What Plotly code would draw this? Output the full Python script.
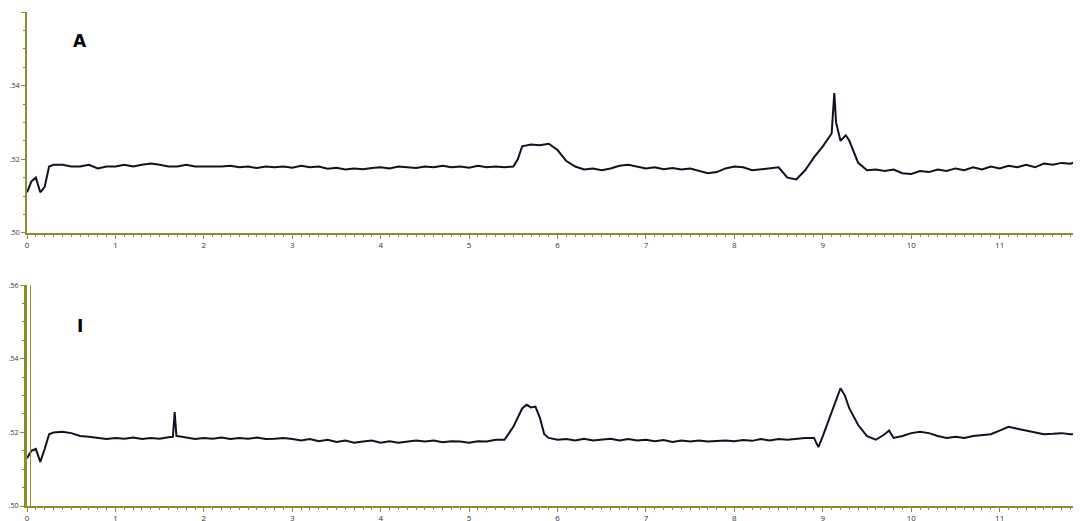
import plotly.graph_objects as go

x_top = [0.0,0.05,0.1,0.15,0.2,0.25,0.3,0.4,0.5,0.6,0.7,0.8,0.9,1.0,1.1,1.2,1.3,1.4,1.5,1.6,1.7,1.8,1.9,2.0,2.1,2.2,2.3,2.4,2.5,2.6,2.7,2.8,2.9,3.0,3.1,3.2,3.3,3.4,3.5,3.6,3.7,3.8,3.9,4.0,4.1,4.2,4.3,4.4,4.5,4.6,4.7,4.8,4.9,5.0,5.1,5.2,5.3,5.4,5.5,5.55,5.6,5.7,5.8,5.9,6.0,6.1,6.2,6.3,6.4,6.5,6.6,6.7,6.8,6.9,7.0,7.1,7.2,7.3,7.4,7.5,7.6,7.7,7.8,7.9,8.0,8.1,8.2,8.3,8.4,8.5,8.6,8.7,8.8,8.9,9.0,9.1,9.13,9.15,9.2,9.26,9.3,9.4,9.5,9.6,9.7,9.8,9.9,10.0,10.1,10.2,10.3,10.4,10.5,10.6,10.7,10.8,10.9,11.0,11.1,11.2,11.3,11.4,11.5,11.6,11.7,11.8,11.9]
y_top = [.511,.514,.515,.511,.5125,.518,.5185,.5185,.518,.518,.5185,.5175,.518,.518,.5185,.518,.5185,.5188,.5185,.518,.518,.5185,.518,.518,.5178,.518,.5182,.5178,.518,.5176,.518,.5178,.518,.5177,.5182,.5178,.518,.5174,.5177,.5172,.5175,.5173,.5176,.5178,.5175,.518,.5178,.5176,.518,.5178,.5182,.5178,.518,.5177,.5182,.5178,.518,.5178,.518,.520,.5235,.524,.5238,.5242,.5225,.5195,.518,.5172,.5175,.517,.5175,.5182,.5185,.518,.5175,.5178,.5173,.5176,.5172,.5175,.5168,.5162,.5165,.5175,.518,.5178,.517,.5172,.5175,.5178,.515,.5145,.517,.5205,.5235,.527,.538,.530,.525,.5265,.525,.519,.517,.5172,.5168,.5172,.5162,.516,.5168,.5165,.5172,.5168,.5175,.517,.5178,.5172,.518,.5175,.5182,.5178,.5185,.5178,.5188,.5185,.519,.5188,.5195]

x_bot = [0.0,0.05,0.1,0.15,0.2,0.25,0.3,0.4,0.5,0.6,0.7,0.8,0.9,1.0,1.1,1.2,1.3,1.4,1.5,1.6,1.65,1.67,1.69,1.7,1.8,1.9,2.0,2.1,2.2,2.3,2.4,2.5,2.6,2.7,2.8,2.9,3.0,3.1,3.2,3.3,3.4,3.5,3.6,3.7,3.8,3.9,4.0,4.1,4.2,4.3,4.4,4.5,4.6,4.7,4.8,4.9,5.0,5.1,5.2,5.3,5.4,5.5,5.6,5.65,5.7,5.75,5.8,5.85,5.9,6.0,6.1,6.2,6.3,6.4,6.5,6.6,6.7,6.8,6.9,7.0,7.1,7.2,7.3,7.4,7.5,7.6,7.7,7.8,7.9,8.0,8.1,8.2,8.3,8.4,8.5,8.6,8.7,8.8,8.9,8.95,9.0,9.1,9.2,9.25,9.3,9.4,9.5,9.6,9.7,9.75,9.8,9.9,10.0,10.1,10.2,10.3,10.4,10.5,10.6,10.7,10.8,10.9,11.0,11.1,11.2,11.3,11.4,11.5,11.6,11.7,11.8,11.9]
y_bot = [.513,.515,.5155,.512,.5155,.5195,.520,.5202,.5198,.519,.5188,.5185,.5182,.5185,.5183,.5186,.5182,.5185,.5183,.5187,.5188,.5255,.519,.519,.5185,.5182,.5185,.5183,.5186,.5182,.5185,.5183,.5186,.5182,.5183,.5185,.5182,.5178,.5182,.5176,.518,.5174,.5178,.5172,.5175,.5178,.5172,.5176,.5172,.5176,.5178,.5175,.5178,.5173,.5176,.5175,.5172,.5176,.5175,.518,.518,.5215,.5265,.5275,.5268,.527,.524,.5195,.5185,.518,.5182,.5178,.5183,.5178,.518,.5183,.5178,.5182,.5178,.518,.5176,.5179,.5174,.5178,.5175,.5178,.5175,.5176,.5178,.5176,.5179,.5177,.5182,.5178,.5182,.518,.5183,.5185,.5185,.516,.519,.5255,.532,.530,.5265,.522,.519,.518,.5195,.5205,.5185,.519,.5198,.5202,.5198,.519,.5185,.5188,.5185,.519,.5192,.5195,.5205,.5215,.521,.5205,.5198,.5195,.5196,.5198,.5195,.5195]

x_ticks = list(range(0, 12))
y_tickvals = [0.50, 0.52, 0.54, 0.56]
y_ticktext = [".50", ".52", ".54", ".56"]

axc = "#8c8c2c"
fig = go.Figure()
fig.add_trace(go.Scatter(x=x_top, y=y_top, mode="lines", line=dict(color="#111122", width=2), xaxis="x", yaxis="y"))
fig.add_trace(go.Scatter(x=x_bot, y=y_bot, mode="lines", line=dict(color="#111122", width=2), xaxis="x2", yaxis="y2"))

xa = dict(range=[0, 11.92], tickvals=x_ticks, showgrid=False, zeroline=False, showline=True, automargin=False,
          linecolor=axc, linewidth=1.5, ticks="outside", ticklen=4, tickcolor=axc,
          minor=dict(dtick=0.1, ticks="outside", ticklen=2, tickcolor=axc),
          tickfont=dict(size=8, color="#333"))
ya = dict(range=[0.50, 0.56], tickvals=y_tickvals, ticktext=y_ticktext, showgrid=False, zeroline=False,
          showline=True, automargin=False, linecolor=axc, linewidth=1.5, ticks="outside", ticklen=4, tickcolor=axc,
          minor=dict(dtick=0.005, ticks="outside", ticklen=2, tickcolor=axc),
          tickfont=dict(size=7, color="#333"))
fig.update_layout(
    width=1073, height=513, margin=dict(l=19, r=0, t=4, b=15),
    paper_bgcolor="white", plot_bgcolor="white", showlegend=False,
    xaxis=dict(xa, domain=[0, 1], anchor="y"),
    yaxis=dict(ya, domain=[0.553, 1], anchor="x"),
    xaxis2=dict(xa, domain=[0, 1], anchor="y2"),
    yaxis2=dict(ya, domain=[0, 0.447], anchor="x2", linewidth=3),
    annotations=[
        dict(x=0.6, y=0.552, xref="x", yref="y", text="<b>A</b>", showarrow=False,
             font=dict(family="DejaVu Sans", size=17, color="black")),
        dict(x=0.6, y=0.549, xref="x2", yref="y2", text="<b>I</b>", showarrow=False,
             font=dict(family="DejaVu Sans", size=17, color="black")),
    ],
    shapes=[dict(type="line", xref="x2", yref="y2", x0=0.04, x1=0.04, y0=0.50, y1=0.56,
                 line=dict(color=axc, width=1))],
)
fig.write_html("out.html")
